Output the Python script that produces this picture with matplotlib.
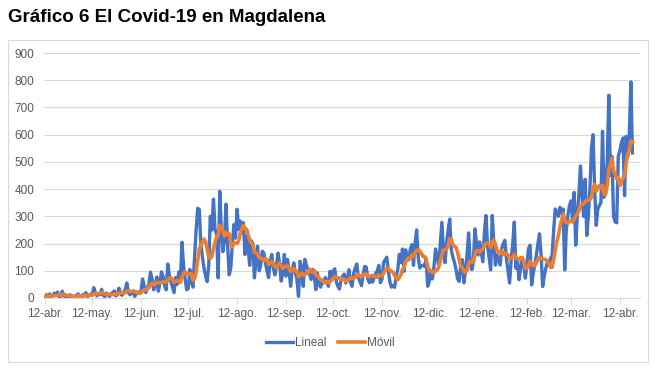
import numpy as np
import pandas as pd
import matplotlib
matplotlib.use("Agg")
import matplotlib.pyplot as plt
from matplotlib.patches import Rectangle

# Daily cases, Magdalena (12th to 11th)
abr_may = [3, 12, 5, 15, 2, 8, 18, 10, 22, 4, 6, 25, 9, 3, 1, 5, 12, 2, 7, 4,
           10, 15, 6, 3, 12, 8, 20, 5, 10, 14]
may_jun = [10, 38, 20, 8, 15, 12, 32, 10, 5, 18, 12, 6, 14, 20, 26, 8, 12, 36, 15, 10,
           22, 30, 55, 20, 12, 18, 25, 6, 15, 22, 20]
jun_jul = [25, 70, 45, 20, 35, 50, 95, 70, 30, 45, 77, 25, 55, 96, 80, 45, 30, 125, 83, 60,
           40, 20, 75, 50, 96, 60, 205, 120, 70, 30]
jul_ago = [35, 105, 60, 40, 150, 250, 330, 325, 200, 150, 110, 80, 60, 120, 300, 250, 363, 252, 235, 74,
           392, 252, 170, 215, 345, 190, 85, 111, 200, 270, 220]
ago_sep = [326, 252, 283, 240, 277, 160, 228, 185, 120, 210, 200, 74, 140, 190, 100, 120, 172, 165, 130, 100,
           75, 135, 160, 110, 85, 120, 165, 125, 62, 95, 160]
sep_oct = [80, 142, 100, 43, 105, 129, 95, 68, 6, 135, 110, 43, 142, 120, 105, 90, 68, 105, 80, 31,
           92, 50, 40, 60, 55, 75, 60, 43, 98, 68]
oct_nov = [100, 107, 60, 43, 33, 67, 80, 88, 55, 70, 104, 58, 43, 90, 110, 125, 75, 60, 45, 85,
           116, 113, 70, 56, 80, 58, 75, 90, 100, 120, 56]
nov_dic = [70, 130, 140, 150, 100, 60, 40, 45, 39, 80, 104, 160, 130, 180, 98, 177, 144, 140, 180, 196,
           120, 200, 250, 150, 110, 119, 120, 116, 144, 43]
dic_ene = [60, 100, 70, 116, 180, 150, 120, 200, 278, 180, 130, 200, 250, 290, 177, 150, 131, 104, 70, 61,
           120, 141, 56, 100, 160, 239, 130, 104, 131, 254, 200]
ene_feb = [158, 206, 170, 133, 240, 303, 194, 150, 103, 303, 200, 121, 158, 140, 121, 182, 200, 212, 145, 100,
           55, 139, 200, 279, 109, 133, 67, 110, 145, 120, 73]
feb_mar = [120, 182, 194, 48, 90, 121, 158, 200, 236, 158, 42, 80, 109, 133, 120, 145, 158, 250, 327, 315,
           300, 333, 310, 327, 103, 250, 303, 339]
mar_abr = [357, 280, 388, 194, 303, 380, 485, 376, 300, 436, 230, 300, 400, 551, 600, 400, 267, 327, 340, 351,
           612, 370, 400, 497, 745, 450, 520, 300, 280, 276, 521]
abr_fin = [540, 570, 588, 376, 594, 521, 600, 794, 533]

tick_labels = ['12-abr.', '12-may.', '12-jun.', '12-jul.', '12-ago.', '12-sep.', '12-oct.',
               '12-nov.', '12-dic.', '12-ene.', '12-feb.', '12-mar.', '12-abr.']

casos = (abr_may + may_jun + jun_jul + jul_ago + ago_sep + sep_oct + oct_nov +
         nov_dic + dic_ene + ene_feb + feb_mar + mar_abr + abr_fin)
fechas = pd.date_range('2020-04-12', periods=len(casos), freq='D')
lineal = pd.Series(casos, index=fechas)
movil = lineal.rolling(7, min_periods=1).mean()     # 7-day moving average

ticks = pd.date_range('2020-04-01', periods=13, freq='MS') + pd.Timedelta(days=11)

plt.rcParams['font.family'] = ['Liberation Sans', 'DejaVu Sans']
W, H = 657, 368
fig = plt.figure(figsize=(W/100, H/100), dpi=100)
fig.patch.set_facecolor('white')

# Chart frame and title
fig.patches.append(Rectangle((8/W, 6/H), 640/W, 322/H, transform=fig.transFigure,
                             fill=False, edgecolor='#D9D9D9', linewidth=0.8))
fig.text(8/W, 1 - 17/H, 'Gráfico 6 El Covid-19 en Magdalena', fontsize=13.5,
         fontweight='bold', va='center', ha='left', color='black')

ax = fig.add_axes([44/W, 70/H, 596/W, 245/H])
ax.plot(lineal.index, lineal.values, color='#4472C4', lw=2.4, label='Lineal',
        solid_joinstyle='round')
ax.plot(movil.index, movil.values, color='#ED7D31', lw=2.6, label='Móvil',
        solid_joinstyle='round')

ax.set_ylim(0, 900)
ax.set_yticks(np.arange(0, 901, 100))
ax.set_xlim(fechas[0] - pd.Timedelta(hours=14), fechas[0] + pd.Timedelta(days=377.8))
ax.set_xticks(ticks)
ax.set_xticklabels(tick_labels)

ax.grid(axis='y', color='#D9D9D9', lw=0.8)
ax.set_axisbelow(True)
for s in ['top', 'right', 'left']:
    ax.spines[s].set_visible(False)
ax.spines['bottom'].set_color('#D9D9D9')
ax.spines['bottom'].set_linewidth(0.8)
ax.tick_params(axis='y', length=0, pad=7, labelsize=8.5, labelcolor='#595959')
ax.tick_params(axis='x', length=4, width=0.8, color='#D9D9D9', pad=3,
               labelsize=8.5, labelcolor='#595959')

fig.legend(loc='center', bbox_to_anchor=(330/W, 25/H), ncol=2, frameon=False,
           fontsize=8.5, handlelength=2.3, handletextpad=0.15, columnspacing=1.0,
           labelcolor='#595959')

fig.savefig('out.png', dpi=100)
